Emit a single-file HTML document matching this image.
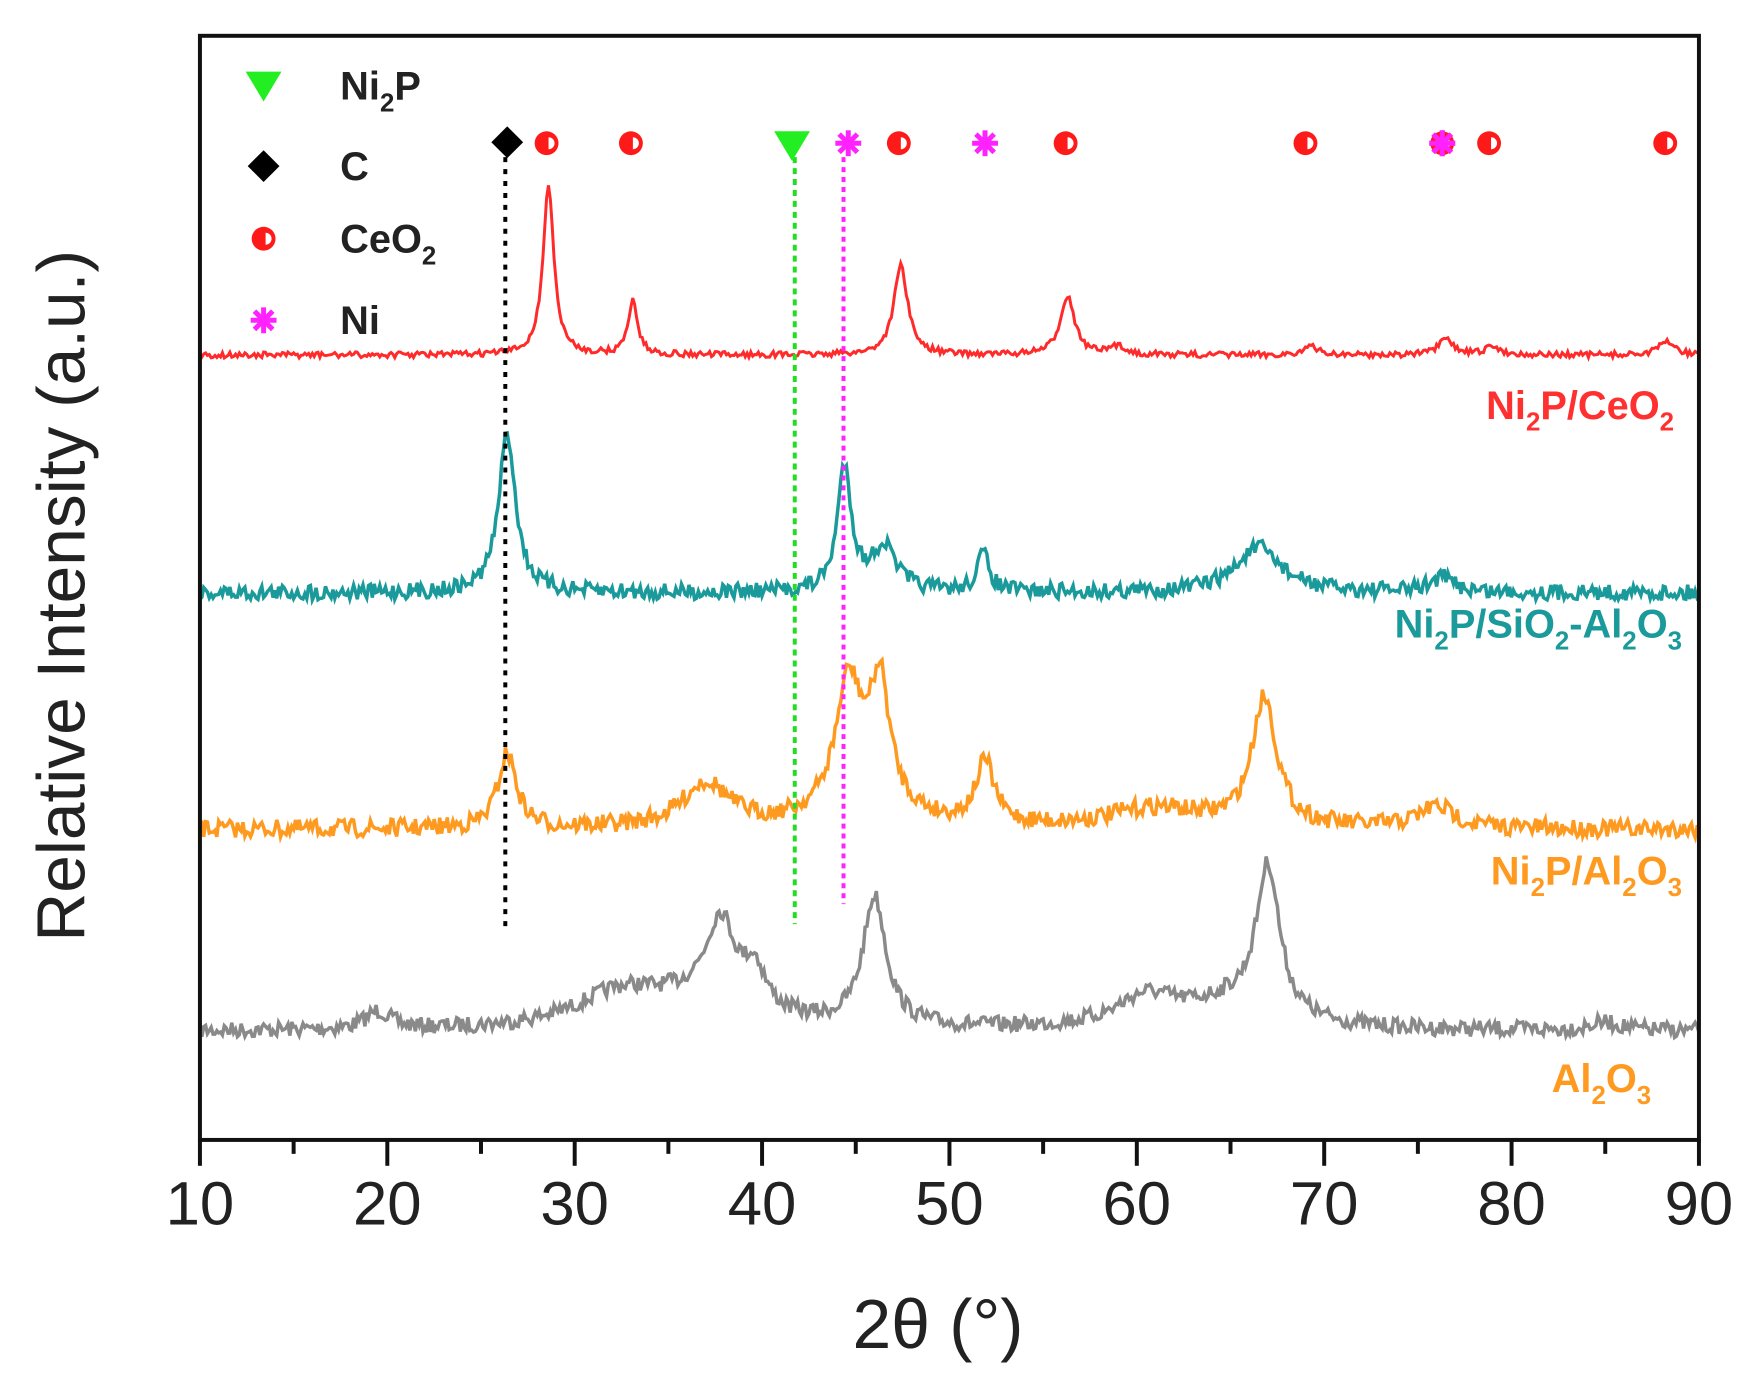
<!DOCTYPE html>
<html><head><meta charset="utf-8"><style>
html,body{margin:0;padding:0;background:#fff;}
svg{display:block;font-family:"Liberation Sans",sans-serif;}
</style></head><body>
<svg id="s" width="1762" height="1392" viewBox="0 0 1762 1392" xmlns="http://www.w3.org/2000/svg">
<rect width="1762" height="1392" fill="#fff"/>
<g transform="scale(0.9947)">
<g id="curves"></g>
<line x1="508" y1="158" x2="508" y2="938" stroke="#000" stroke-width="4" stroke-dasharray="5,7"/>
<line x1="799" y1="158" x2="799" y2="929" stroke="#22dd22" stroke-width="4" stroke-dasharray="6,5"/>
<line x1="848" y1="158" x2="848" y2="909" stroke="#ff22ff" stroke-width="4" stroke-dasharray="5,5"/>
<rect x="201" y="36" width="1507" height="1110" fill="none" stroke="#111" stroke-width="4"/>
<g id="ticks" stroke="#111" stroke-width="4"></g>
<g font-size="62" fill="#222" text-anchor="middle" id="tl"></g>
<text x="943" y="1355" font-size="70" text-anchor="middle" fill="#222">2θ (°)</text>
<text transform="translate(85,599) rotate(-90)" font-size="68" text-anchor="middle" fill="#222">Relative Intensity (a.u.)</text>
<g id="marks"></g>
<g font-size="40" font-weight="bold" fill="#222">
<text x="342" y="100">Ni<tspan font-size="26" dy="12">2</tspan><tspan dy="-12">P</tspan></text>
<text x="342" y="181">C</text>
<text x="342" y="254">CeO<tspan font-size="26" dy="12">2</tspan></text>
<text x="342" y="336">Ni</text>
</g>
<g font-size="40" font-weight="bold" text-anchor="end">
<text x="1683" y="421" fill="#ff3030">Ni<tspan font-size="26" dy="12">2</tspan><tspan dy="-12">P/CeO</tspan><tspan font-size="26" dy="12">2</tspan></text>
<text x="1691" y="641" fill="#1a9a9a">Ni<tspan font-size="26" dy="12">2</tspan><tspan dy="-12">P/SiO</tspan><tspan font-size="26" dy="12">2</tspan><tspan dy="-12">-Al</tspan><tspan font-size="26" dy="12">2</tspan><tspan dy="-12">O</tspan><tspan font-size="26" dy="12">3</tspan></text>
<text x="1691" y="889" fill="#ff9a20">Ni<tspan font-size="26" dy="12">2</tspan><tspan dy="-12">P/Al</tspan><tspan font-size="26" dy="12">2</tspan><tspan dy="-12">O</tspan><tspan font-size="26" dy="12">3</tspan></text>
<text x="1660" y="1098" fill="#ff9a20">Al<tspan font-size="26" dy="12">2</tspan><tspan dy="-12">O</tspan><tspan font-size="26" dy="12">3</tspan></text>
</g>
</g>
</svg>
<script>
var NS="http://www.w3.org/2000/svg";
function X(t){return 201+(t-10)*18.8375;}
function el(tag,a,p){var e=document.createElementNS(NS,tag);for(var k in a)e.setAttribute(k,a[k]);p.appendChild(e);return e;}
var tk=document.getElementById('ticks'),tl=document.getElementById('tl');
for(var t=10;t<=90;t+=5){var x=X(t);el('line',{x1:x,y1:1146,x2:x,y2:t%10==0?1172:1160},tk);
 if(t%10==0){var tx=el('text',{x:x,y:1231},tl);tx.textContent=t;}}
var seed=7;function rnd(){seed=(seed*16807)%2147483647;return seed/2147483647;}
function curve(base,peaks,noise,color,w){
 var d="";for(var t=10;t<=90;t+=0.1){var y=base;
  for(var i=0;i<peaks.length;i++){var p=peaks[i];var u=(t-p[0])/p[2];y-=p[1]/(1+u*u);}
  y+=(rnd()-0.5)*noise;
  d+=(d?"L":"M")+X(t).toFixed(1)+","+y.toFixed(1);}
 el('path',{d:d,fill:'none',stroke:color,'stroke-width':w},document.getElementById('curves'));}
curve(1037,[[19.5,18,0.8],[32.5,35,3],[37.8,80,0.9],[39.6,40,0.7],[37,28,3],[46,130,0.75],[60.5,30,2],[67,150,0.75],[65,25,3],[85,8,1]],16,'#8a8a8a',3.5);
curve(834,[[26.4,75,0.6],[37,45,1.5],[44.6,115,0.8],[46.3,110,0.6],[45.5,40,2],[51.9,62,0.6],[61,20,3],[66.8,130,0.8],[76,22,1.2]],18,'#ff9a20',3.5);
curve(596,[[26.4,160,0.55],[44.4,125,0.45],[46.5,45,0.8],[51.8,38,0.4],[66.5,45,1.5],[76.3,15,0.8]],16,'#1a9a9a',3.5);
curve(357,[[28.6,170,0.35],[33.1,55,0.3],[47.4,90,0.45],[56.3,60,0.45],[59,8,0.5],[69.3,8,0.5],[76.5,15,0.5],[79,8,0.5],[88.3,14,0.5]],6,'#ff2a2a',3);
var mk=document.getElementById('marks');
function ce(x,y){el('circle',{cx:x,cy:y,r:12,fill:'#ff1a1a'},mk);el('path',{d:'M'+(x+2)+','+(y-6)+'a6,6 0 0 1 0,12z',fill:'#fff'},mk);}
function star(x,y){for(var a=0;a<4;a++){var an=a*Math.PI/4;el('line',{x1:x-13*Math.cos(an),y1:y-13*Math.sin(an),x2:x+13*Math.cos(an),y2:y+13*Math.sin(an),stroke:'#ff22ff','stroke-width':5},mk);}}
function dia(x,y){el('path',{d:'M'+x+','+(y-16)+'L'+(x+16)+','+y+'L'+x+','+(y+16)+'L'+(x-16)+','+y+'z',fill:'#000'},mk);}
function tri(x,y){el('path',{d:'M'+(x-18)+','+(y-14)+'L'+(x+18)+','+(y-14)+'L'+x+','+(y+16)+'z',fill:'#22ee22'},mk);}
[28.5,33,47.3,56.2,69,78.8,88.2].forEach(function(t){ce(X(t),144);});
[44.6,51.9,76.3].forEach(function(t){star(X(t),144);});
ce(X(76.3),144);star(X(76.3),144);
dia(X(26.4),143);tri(X(41.6),146);
tri(265,86);dia(265,167);ce(265,240);star(265,322);
</script>
</body></html>
